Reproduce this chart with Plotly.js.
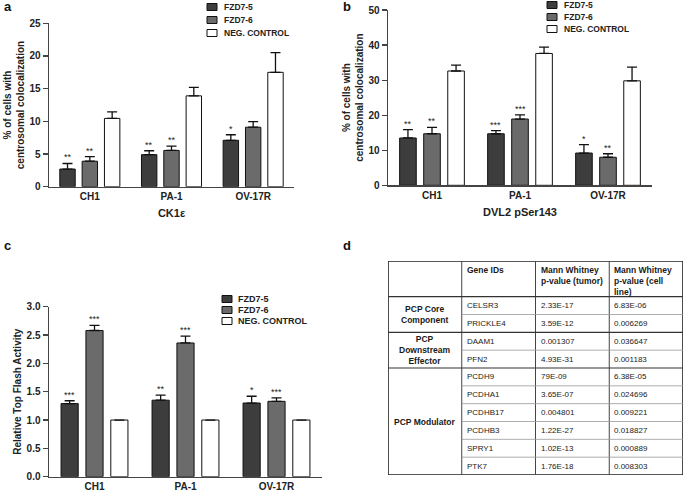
<!DOCTYPE html>
<html>
<head>
<meta charset="utf-8">
<script src="https://cdn.plot.ly/plotly-3.0.1.min.js"></script>
<style>
    body { margin: 0; background: #fff; }
    #chart { width: 685px; height: 494px; }
</style>
</head>
<body>
<div id="chart"></div>
<script>
const cellLines = ['CH1', 'PA-1', 'OV-17R'];
const seriesNames = ['FZD7-5', 'FZD7-6', 'NEG. CONTROL'];

// a: CK1e  (rows = series, cols = cell lines)
const ck1Mean = [[2.7, 4.9, 7.1], [3.9, 5.55, 9.1], [10.45, 13.9, 17.5]];
const ck1Err = [[0.85, 0.6, 0.85], [0.7, 0.65, 0.85], [1.0, 1.3, 3.0]];
const ck1Stars = [['**', '**', '*'], ['**', '**', ''], ['', '', '']];

// b: DVL2 pSer143
const dvlMean = [[13.5, 14.7, 9.2], [14.7, 18.9, 8.0], [32.6, 37.6, 29.8]];
const dvlErr = [[2.4, 0.9, 2.4], [1.8, 1.2, 1.0], [1.7, 1.8, 3.9]];
const dvlStars = [['**', '***', '*'], ['**', '***', '**'], ['', '', '']];

// c: Top Flash
const topMean = [[1.29, 1.35, 1.30], [2.58, 2.36, 1.33], [1.0, 1.0, 1.0]];
const topErr = [[0.05, 0.09, 0.12], [0.09, 0.12, 0.06], [0, 0, 0]];
const topStars = [['***', '**', '*'], ['***', '***', '***'], ['', '', '']];

// d: table
const groupNames = ['PCP Core<br>Component', 'PCP<br>Downstream<br>Effector', 'PCP Modulator'];
const groupSizes = [2, 2, 6];
const headers = ['', 'Gene IDs', 'Mann Whitney<br>p-value (tumor)', 'Mann Whitney<br>p-value (cell<br>line)'];
const geneIds = ['CELSR3', 'PRICKLE4', 'DAAM1', 'PFN2', 'PCDH9', 'PCDHA1', 'PCDHB17', 'PCDHB3', 'SPRY1', 'PTK7'];
const pTumor = ['2.33E-17', '3.59E-12', '0.001307', '4.93E-31', '79E-09', '3.65E-07', '0.004801', '1.22E-27', '1.02E-13', '1.76E-18'];
const pCell = ['6.83E-06', '0.006269', '0.036647', '0.001183', '6.38E-05', '0.024696', '0.009221', '0.018827', '0.000889', '0.008303'];

const barColors = ['#3d3d3d', '#6b6b6b', '#ffffff'];
const W = 685, H = 494;
const bargap = 0.18;
const slot = (1 - bargap) / 3;
const FONT = 'Liberation Sans, Arial, sans-serif';

var data = [];
var annotations = [];
var shapes = [];

function addPanel(means, errs, stars, xa, ya) {
    means.forEach((vals, j) => {
        data.push({
            type: 'bar',
            x: [0, 1, 2],
            y: vals,
            xaxis: xa,
            yaxis: ya,
            name: seriesNames[j],
            showlegend: false,
            hoverinfo: 'none',
            marker: { color: barColors[j], line: { color: '#111', width: 1 } },
            error_y: {
                type: 'data',
                symmetric: false,
                array: errs[j],
                arrayminus: errs[j].map(() => 0),
                color: '#111',
                thickness: 1.3,
                width: 5
            }
        });
        vals.forEach((v, i) => {
            if (!stars[j][i]) return;
            annotations.push({
                xref: xa, yref: ya,
                x: i + (j - 1) * slot,
                y: v + errs[j][i],
                text: stars[j][i],
                showarrow: false,
                yanchor: 'bottom',
                yshift: -1,
                font: { family: FONT, size: 9, color: '#222' }
            });
        });
    });
}

addPanel(ck1Mean, ck1Err, ck1Stars, 'x', 'y');
addPanel(dvlMean, dvlErr, dvlStars, 'x2', 'y2');
addPanel(topMean, topErr, topStars, 'x3', 'y3');

// legends (drawn by hand for the tight GraphPad spacing)
const legendSpots = [
    { sx: 207, tx: 222, rows: [7, 20, 33], size: 8.5 },
    { sx: 547, tx: 562, rows: [5, 17, 29], size: 8.5 },
    { sx: 222, tx: 236, rows: [299, 310, 321], size: 9 }
];
legendSpots.forEach(spot => {
    seriesNames.forEach((name, j) => {
        const cy = spot.rows[j];
        shapes.push({
            type: 'rect', xref: 'paper', yref: 'paper',
            x0: spot.sx / W, x1: (spot.sx + 10) / W,
            y0: 1 - (cy - 3.5) / H, y1: 1 - (cy + 3.5) / H,
            fillcolor: barColors[j], line: { color: '#111', width: 1 }
        });
        annotations.push({
            xref: 'paper', yref: 'paper',
            x: spot.tx / W, y: 1 - cy / H,
            xanchor: 'left', yanchor: 'middle',
            text: name, showarrow: false,
            font: { family: FONT, size: spot.size, weight: 'bold', color: '#222' }
        });
    });
});

// panel letters
[['a', 2, 6], ['b', 341, 6], ['c', 2, 246], ['d', 341, 246]].forEach(([t, px, py]) => {
    annotations.push({
        xref: 'paper', yref: 'paper', x: px / W, y: 1 - py / H,
        xanchor: 'left', yanchor: 'middle', text: t, showarrow: false,
        font: { family: FONT, size: 13, weight: 'bold', color: '#111' }
    });
});

// table d, on a hidden axis pair: columns 0..4, rows 0..12 (header = 2 rows)
const nRows = geneIds.length;
const yEnd = 2 + nRows;
shapes.push({ type: 'rect', xref: 'x4', yref: 'y4', x0: 0, x1: 4, y0: 0, y1: yEnd,
    line: { color: '#222', width: 1.6 } });
[1, 2, 3].forEach(c => shapes.push({ type: 'line', xref: 'x4', yref: 'y4',
    x0: c, x1: c, y0: 0, y1: yEnd, line: { color: '#444', width: 1 } }));
let rowStart = 2;
groupSizes.forEach((n, g) => {
    shapes.push({ type: 'line', xref: 'x4', yref: 'y4', x0: 0, x1: 4, y0: rowStart, y1: rowStart,
        line: { color: '#333', width: 1.2 } });
    for (let k = 1; k < n; k++) {
        shapes.push({ type: 'line', xref: 'x4', yref: 'y4', x0: 1, x1: 4,
            y0: rowStart + k, y1: rowStart + k, line: { color: '#999', width: 0.8 } });
    }
    annotations.push({
        xref: 'x4', yref: 'y4', x: 0.5, y: rowStart + n / 2,
        text: groupNames[g], showarrow: false, align: 'center',
        font: { family: FONT, size: 8.5, weight: 'bold', color: '#1a1a1a' }
    });
    rowStart += n;
});
headers.forEach((h, c) => {
    if (!h) return;
    annotations.push({
        xref: 'x4', yref: 'y4', x: c, y: 0, xanchor: 'left', yanchor: 'top',
        xshift: 3, yshift: -2, align: 'left', text: h, showarrow: false,
        font: { family: FONT, size: 8.5, weight: 'bold', color: '#1a1a1a' }
    });
});
[geneIds, pTumor, pCell].forEach((col, c) => {
    col.forEach((v, r) => {
        annotations.push({
            xref: 'x4', yref: 'y4', x: c + 1, y: 2.5 + r, xanchor: 'left',
            xshift: 3, text: v, showarrow: false,
            font: { family: FONT, size: 8, color: '#1a1a1a' }
        });
    });
});

function catAxis(d0, d1, anchor, title) {
    return {
        domain: [d0 / W, d1 / W], anchor: anchor,
        range: [-0.5, 2.5], tickvals: [0, 1, 2], ticktext: cellLines,
        showline: true, linecolor: '#444', linewidth: 1.5,
        ticks: '', showgrid: false, zeroline: false, fixedrange: true,
        tickfont: { family: FONT, size: 10, weight: 'bold', color: '#222' },
        title: { text: title, standoff: 8, font: { family: FONT, size: 11, weight: 'bold', color: '#222' } }
    };
}
function valAxis(top, bottom, anchor, range, dtick, title, fmt) {
    return {
        domain: [1 - bottom / H, 1 - top / H], anchor: anchor,
        range: range, dtick: dtick, tickformat: fmt,
        showline: true, linecolor: '#444', linewidth: 1.5,
        ticks: 'outside', ticklen: 5, tickwidth: 1.2, tickcolor: '#444',
        showgrid: false, zeroline: false, fixedrange: true,
        tickfont: { family: FONT, size: 10, weight: 'bold', color: '#222' },
        title: { text: title, standoff: 3, font: { family: FONT, size: 10, weight: 'bold', color: '#222' } }
    };
}

const cellTitle = '% of cells with<br>centrosomal colocalization';
var layout = {
    width: W, height: H,
    margin: { l: 0, r: 0, t: 0, b: 0 },
    paper_bgcolor: '#fff', plot_bgcolor: 'rgba(0,0,0,0)',
    barmode: 'group', bargap: bargap, bargroupgap: 0.31,
    showlegend: false,
    font: { family: FONT, color: '#222' },
    xaxis: catAxis(49, 294, 'y', 'CK1ε'),
    yaxis: valAxis(23.3, 186.7, 'x', [0, 25], 5, cellTitle),
    xaxis2: catAxis(388, 652, 'y2', 'DVL2 pSer143'),
    yaxis2: valAxis(10, 185.3, 'x2', [0, 50], 10, cellTitle),
    xaxis3: catAxis(49, 322, 'y3', ''),
    yaxis3: valAxis(306.7, 476.7, 'x3', [0, 3], 0.5, 'Relative Top Flash Activity', '.1f'),
    xaxis4: { domain: [388 / W, 683 / W], anchor: 'y4', range: [0, 4], visible: false, fixedrange: true },
    yaxis4: { domain: [1 - 475 / H, 1 - 261 / H], anchor: 'x4', range: [yEnd, 0], visible: false, fixedrange: true },
    annotations: annotations,
    shapes: shapes
};

Plotly.newPlot('chart', data, layout, { staticPlot: true });
</script>
</body>
</html>
